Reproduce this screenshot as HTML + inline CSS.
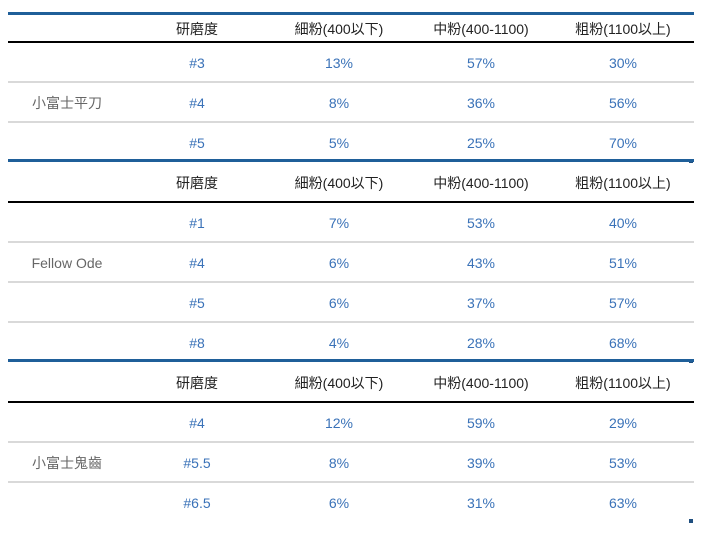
<!DOCTYPE html>
<html><head><meta charset="utf-8"><style>
body{margin:0;width:707px;height:538px;background:#fff;position:relative;overflow:hidden;font-family:"Liberation Sans","Noto Sans CJK TC",sans-serif;font-size:14px}
.l{position:absolute;left:8px;width:686px}
.b{height:3px;background:#1f5f99}
.k{height:2px;background:#000}
.g{height:2px;background:#d9d9d9}
.t{position:absolute;width:142px;text-align:center;line-height:20px;transform:translateY(-10px)}
.h{color:#222}
.n{color:#3a72b8}
.lab{color:#666;left:8px;width:118px}
.m{position:absolute;width:4px;height:4px;background:#1f4f7f;left:689px}
</style></head><body>
<script>
const tables=[
 {label:"小富士平刀",top:12,rows:[["#3","13%","57%","30%"],["#4","8%","36%","56%"],["#5","5%","25%","70%"]]},
 {label:"Fellow Ode",top:159,rows:[["#1","7%","53%","40%"],["#4","6%","43%","51%"],["#5","6%","37%","57%"],["#8","4%","28%","68%"]]},
 {label:"小富士鬼齒",top:359,rows:[["#4","12%","59%","29%"],["#5.5","8%","39%","53%"],["#6.5","6%","31%","63%"]]}
];
const headers=["研磨度","細粉(400以下)","中粉(400-1100)","粗粉(1100以上)"];
const colX=[126,268,410,552];
const root=document.body;
function add(cls,css,text,name){const d=document.createElement('div');d.className=cls;d.style.cssText=css;if(text!=null)d.textContent=text;


root.appendChild(d);return d;}
tables.forEach((tb,ti)=>{
 const T=tb.top;
 add('l b','top:'+T+'px',null,'table-top-border');
 const hy=T+(ti==0?17:24);
 headers.forEach((h,i)=>add('t h','left:'+colX[i]+'px;top:'+hy+'px',h,'column-header'));
 const ky=T+(ti==0?29:42);
 add('l k','top:'+ky+'px',null,'header-divider');
 const rs=ky+2;
 tb.rows.forEach((r,ri)=>{
  const cy=rs+20+ri*40;
  r.forEach((v,i)=>add('t n','left:'+colX[i]+'px;top:'+cy+'px',v,'table-cell'));
  if(ri<tb.rows.length-1) add('l g','top:'+(rs+38+ri*40)+'px',null,'row-divider');
 });
 const mid=rs+20+40;
 add('t lab','top:'+mid+'px',tb.label,'grinder-label');
 add('m','top:'+(rs+tb.rows.length*40-4)+'px',null,'resize-handle');
});
</script>
</body></html>
